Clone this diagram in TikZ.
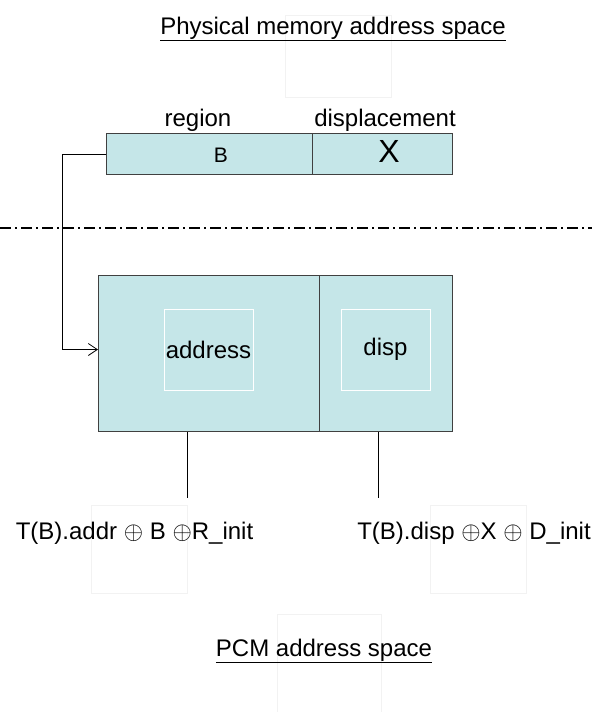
\documentclass[tikz,border=0pt]{standalone}
\usepackage{fontspec}
\setmainfont{Liberation Sans}
\usetikzlibrary{arrows.meta}
\definecolor{cellfill}{RGB}{197,230,232}
\definecolor{cellline}{RGB}{64,64,64}
\begin{document}
\begin{tikzpicture}[x=1pt,y=-1pt,
		cell/.style={draw=cellline,line width=1pt,fill=cellfill,inner sep=0pt,anchor=north west},
		inbox/.style={draw=white,line width=0.8pt,inner sep=0pt,minimum width=89pt,minimum height=81pt},
		ghost/.style={draw=black!5,line width=0.5pt},
		lbl/.style={font=\fontsize{24}{28}\selectfont,inner sep=0pt},
		conn/.style={line width=0.8pt}]
		\useasboundingbox (0,0) rectangle (592,712);
		\draw[ghost] (285,15) rectangle (391,97);
		\draw[ghost] (91,505) rectangle (187,593);
		\draw[ghost] (430,505) rectangle (526,593);
		\draw[ghost] (277,614) rectangle (381,712);
		\node[lbl] (phys) at (333,29) {\underline{Physical memory address space}};
		\node[lbl] (reglbl) at (198,120) {region};
		\node[lbl] (displbl) at (385,120) {displacement};
		\node[cell,minimum width=206pt,minimum height=41pt] (regbox) at (106,133) {};
		\node[cell,minimum width=140pt,minimum height=41pt] (dispbox) at (312,133) {};
		\node[lbl,font=\fontsize{21}{24}\selectfont] (b) at (221,155) {B};
		\node[lbl,font=\fontsize{32}{36}\selectfont] (x) at (389,151) {X};
		\draw[line width=1.6pt,dash pattern=on 11pt off 4pt on 2pt off 4pt] (0,228) -- (592,228);
		\node[cell,minimum width=221pt,minimum height=156pt] (addrbox) at (98,275) {};
		\node[cell,minimum width=133pt,minimum height=156pt] (dbox) at (319,275) {};
		\node[inbox,lbl] (addrin) at (208.5,349.5) {address};
		\node[inbox,lbl] (dispin) at (385.5,349.5) {disp};
		\coordinate (bend) at (62,154);
		\draw[conn,-{Straight Barb[length=9pt,width=12pt]}] (regbox.west) -- (bend) |- (addrbox.west |- addrin);
		\coordinate (addrend) at (187,498);
		\coordinate (dispend) at (378,498);
		\draw[conn] (addrend |- addrbox.south) -- (addrend);
		\draw[conn] (dispend |- dbox.south) -- (dispend);
		\node[lbl] (addrf) at (134.5,533) {T(B).addr $\oplus$ B $\oplus$R\_init};
		\node[lbl] (dispf) at (474,533) {T(B).disp $\oplus$X $\oplus$ D\_init};
		\node[lbl] (pcm) at (324,651) {\underline{PCM address space}};
\end{tikzpicture}
\end{document}
